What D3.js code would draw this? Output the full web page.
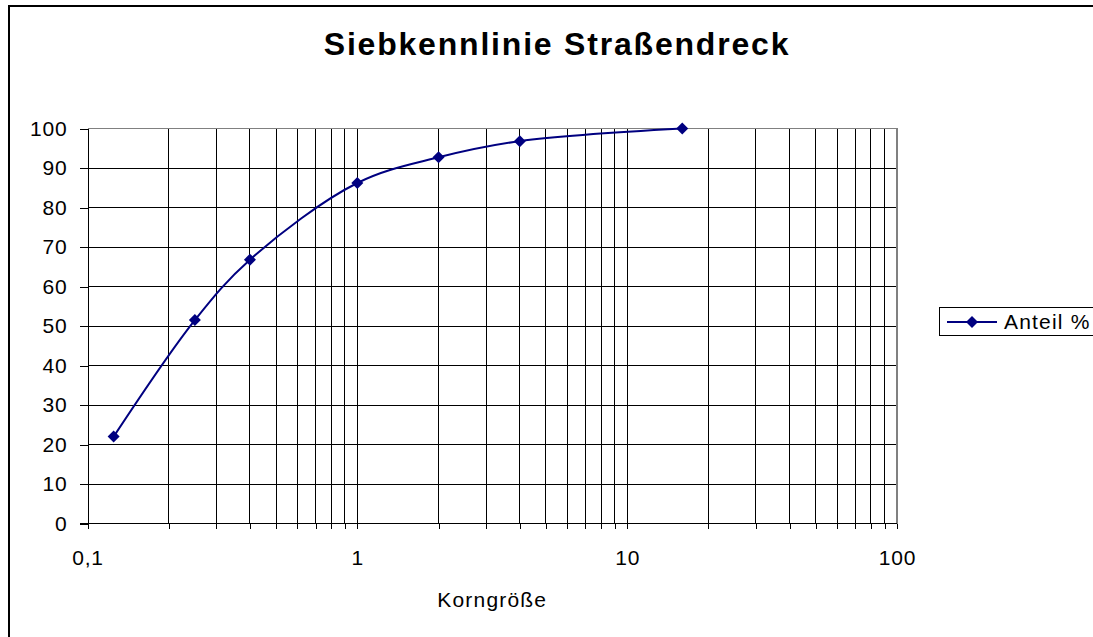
<!DOCTYPE html>
<html>
<head>
<meta charset="utf-8">
<script src="https://cdn.jsdelivr.net/npm/d3@7"></script>
<style>
	body { margin: 0; background: #fff; }
	svg { display: block; font-family: "Liberation Sans", Arial, sans-serif; }
</style>
</head>
<body>
<div id="chart"></div>
<script>
// Siebkennlinie data
var korngroesse = [0.125, 0.25, 0.4, 1, 2, 4, 16];
var anteil = [22, 51.5, 66.8, 86.2, 92.7, 96.8, 100];
var xTickLabels = ["0,1", "1", "10", "100"];
var xTickValues = [0.1, 1, 10, 100];
var yTickValues = [0, 10, 20, 30, 40, 50, 60, 70, 80, 90, 100];
var seriesName = "Anteil %";

var width = 1093;
var height = 637;
var navy = "#000080";

// Create SVG
var svg = d3.select("#chart").append("svg")
	.attr("width", width)
	.attr("height", height);

// Outer chart border
svg.append("rect")
	.attr("x", 9).attr("y", 6)
	.attr("width", 1110).attr("height", 660)
	.attr("fill", "none")
	.attr("stroke", "#000")
	.attr("stroke-width", 2);

// Scales
var x = d3.scaleLog()
	.domain([0.1, 100])
	.range([87.5, 897]);
var y = d3.scaleLinear()
	.domain([0, 100])
	.range([523.5, 128.5]);

// Minor positions on log axis (0.1, 0.2 ... 100)
var logTicks = [];
[0.1, 1, 10].forEach(function(d){
	for (var i = 1; i < 10; i++) logTicks.push(d * i);
});
logTicks.push(100);

// Gridlines
var grid = svg.append("g").attr("shape-rendering", "crispEdges");
grid.selectAll(".hgrid")
	.data(yTickValues.filter(function(d){ return d > 0 && d < 100; }))
	.enter().append("line")
	.attr("x1", x(0.1)).attr("x2", x(100))
	.attr("y1", function(d){ return y(d); })
	.attr("y2", function(d){ return y(d); })
	.attr("stroke", "#000");
grid.selectAll(".vgrid")
	.data(logTicks.filter(function(d){ return d > 0.1 && d < 100; }))
	.enter().append("line")
	.attr("x1", function(d){ return x(d); })
	.attr("x2", function(d){ return x(d); })
	.attr("y1", y(0)).attr("y2", y(100))
	.attr("stroke", "#000");

// Plot border top and right (gray)
grid.append("path")
	.attr("d", "M" + x(0.1) + "," + y(100) + "H" + x(100) + "V" + y(0))
	.attr("fill", "none")
	.attr("stroke", "#808080")
	.attr("stroke-width", 1.5);

// Y axis
var yAxis = svg.append("g")
	.attr("transform", "translate(" + x(0.1) + ",0)")
	.attr("shape-rendering", "crispEdges")
	.call(d3.axisLeft(y).tickValues(yTickValues).tickSize(8).tickPadding(12).tickSizeOuter(0));
yAxis.select(".domain").attr("stroke", "#000");
yAxis.selectAll("text").attr("font-size", "21px").attr("fill", "#000")
	.attr("letter-spacing", "0.8px")
	.style("font-family", "Liberation Sans, Arial, sans-serif");

// X axis
var xAxis = svg.append("g")
	.attr("transform", "translate(0," + y(0) + ")")
	.attr("shape-rendering", "crispEdges")
	.call(d3.axisBottom(x).tickValues(logTicks).tickSize(5).tickSizeOuter(0)
		.tickFormat(function(d){
			var i = xTickValues.indexOf(+d.toPrecision(3));
			return i > -1 ? xTickLabels[i] : "";
		}));
xAxis.select(".domain").attr("stroke", "#000").attr("d", "M80,0H" + x(100));
xAxis.selectAll("text").attr("font-size", "21px").attr("fill", "#000")
	.attr("dy", 0).attr("y", 41)
	.attr("letter-spacing", "0.8px")
	.style("font-family", "Liberation Sans, Arial, sans-serif");

// Title
svg.append("text")
	.attr("x", 557).attr("y", 55)
	.attr("text-anchor", "middle")
	.attr("font-size", "32px")
	.attr("font-weight", "bold")
	.attr("letter-spacing", "1.8px")
	.text("Siebkennlinie Straßendreck");

// Axis title
svg.append("text")
	.attr("x", (x(0.1) + x(100)) / 2).attr("y", 607)
	.attr("text-anchor", "middle")
	.attr("font-size", "21px")
	.attr("letter-spacing", "1.2px")
	.text("Korngröße");

// Series line
var pts = korngroesse.map(function(d, i){ return [d, anteil[i]]; });
var line = d3.line()
	.x(function(d){ return x(d[0]); })
	.y(function(d){ return y(d[1]); })
	.curve(d3.curveCatmullRom.alpha(0.5));
svg.append("path")
	.datum(pts)
	.attr("d", line)
	.attr("fill", "none")
	.attr("stroke", navy)
	.attr("stroke-width", 2);

// Diamond markers
var diamond = d3.symbol().type(d3.symbolSquare).size(72);
svg.selectAll(".marker")
	.data(pts)
	.enter().append("path")
	.attr("d", diamond)
	.attr("transform", function(d){ return "translate(" + x(d[0]) + "," + y(d[1]) + ") rotate(45)"; })
	.attr("fill", navy);

// Legend
var leg = svg.append("g");
leg.append("rect")
	.attr("x", 939.5).attr("y", 307.5)
	.attr("width", 200).attr("height", 28)
	.attr("fill", "#fff")
	.attr("stroke", "#000");
leg.append("line")
	.attr("x1", 947).attr("x2", 997)
	.attr("y1", 322).attr("y2", 322)
	.attr("stroke", navy).attr("stroke-width", 2);
leg.append("path")
	.attr("d", diamond)
	.attr("transform", "translate(972,322) rotate(45)")
	.attr("fill", navy);
leg.append("text")
	.attr("x", 1004).attr("y", 329)
	.attr("font-size", "21px")
	.attr("letter-spacing", "1.2px")
	.text(seriesName);
</script>
</body>
</html>
